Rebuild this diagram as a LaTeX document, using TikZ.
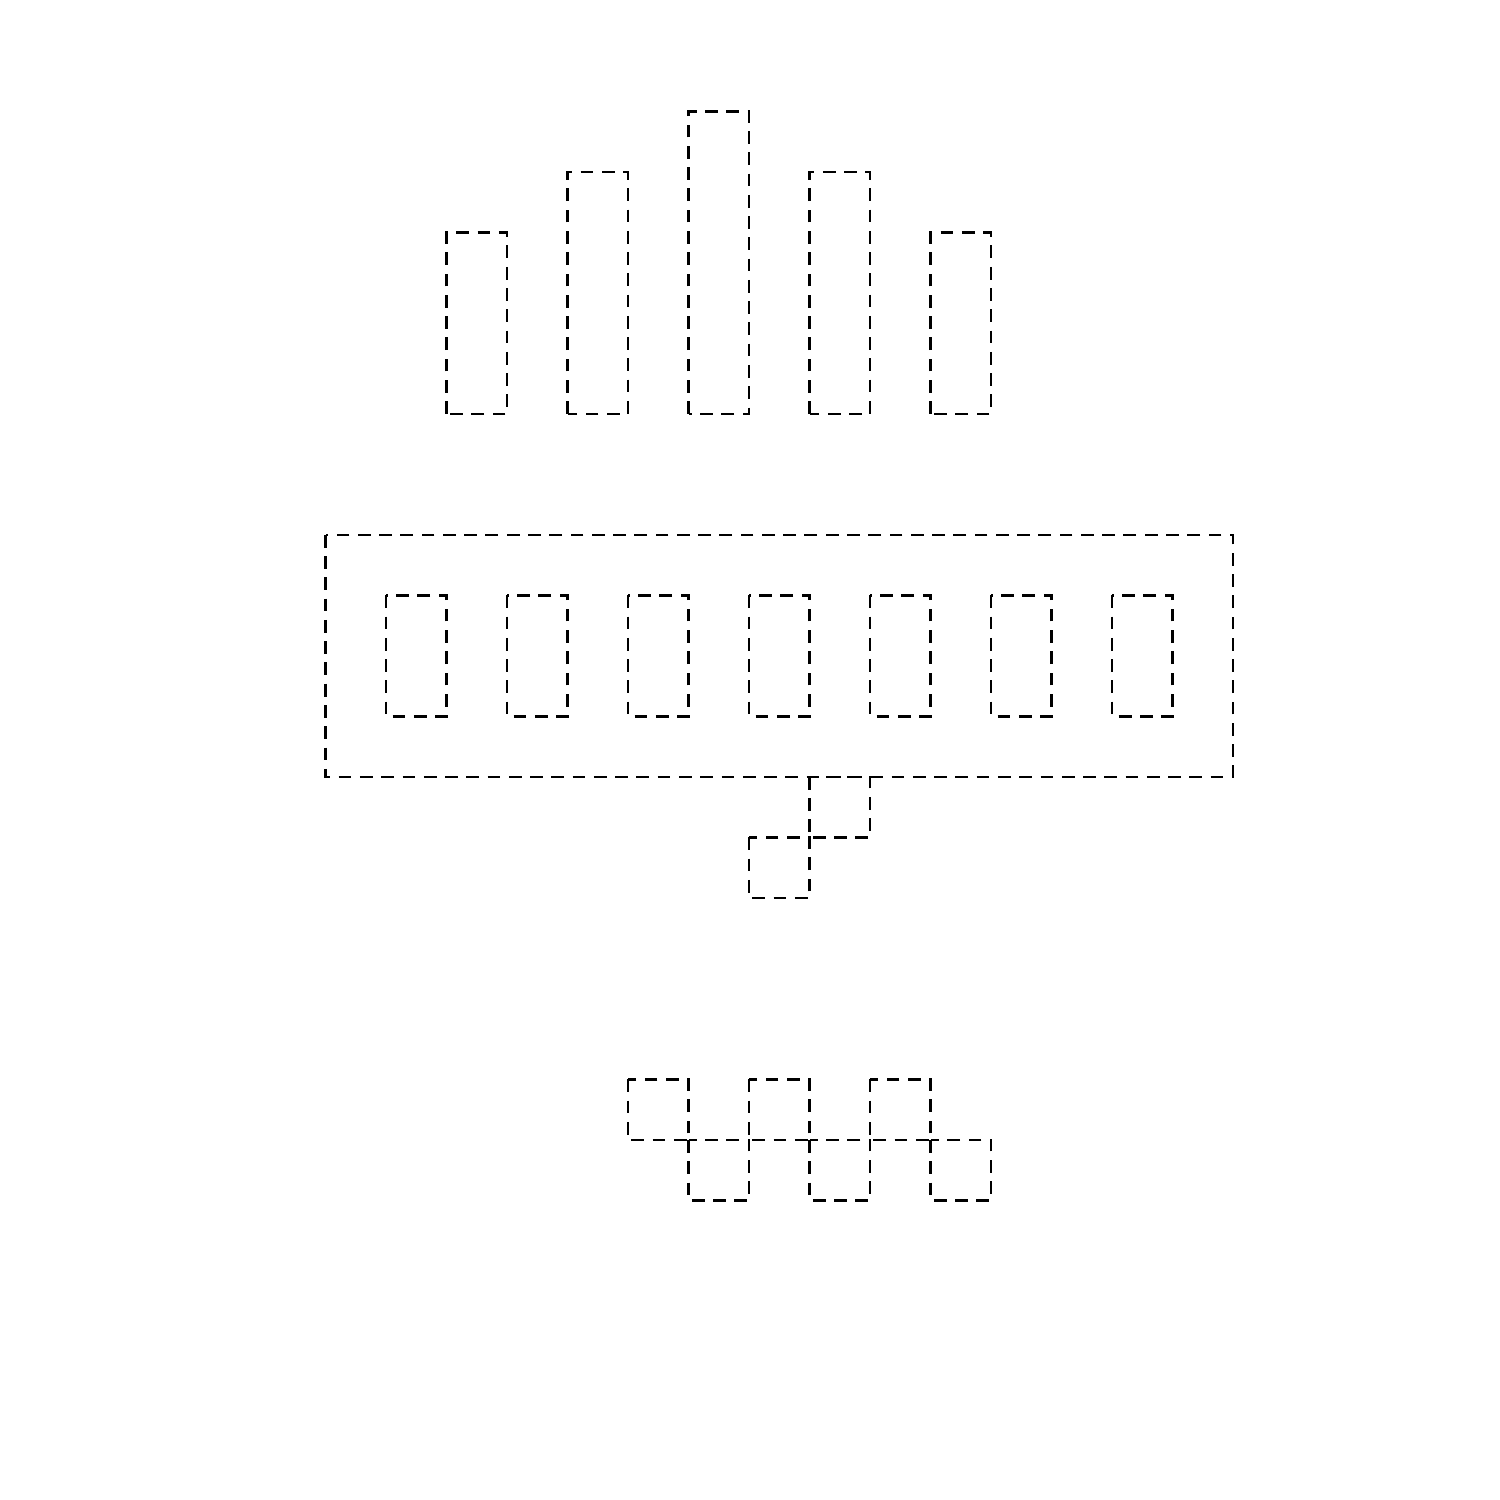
\documentclass[tikz,border=0pt]{standalone}
\usepackage{tikz}

\begin{document}
\begin{tikzpicture}[x=0.5cm, y=0.5cm, densely dashed, semithick]
			%%%%% START %%%%%
			
			\useasboundingbox (-5.38, -15.95) rectangle (19.41, 8.84);
			
			\draw (2, 2) rectangle (3, 5);
			\draw (4, 2) rectangle (5, 6);
			\draw (6, 2) rectangle (7, 7);
			\draw (8, 2) rectangle (9, 6);
			\draw (10, 2) rectangle (11, 5);
			
			\draw (0, 0) rectangle (15, -4);
			
			\draw (1, -1) rectangle (2, -3);
			\draw (3, -1) rectangle (4, -3);
			\draw (5, -1) rectangle (6, -3);
			\draw (7, -1) rectangle (8, -3);
			\draw (9, -1) rectangle (10, -3);
			\draw (11, -1) rectangle (12, -3);
			\draw (13, -1) rectangle (14, -3);
			
			\draw (8, -4) rectangle (9, -5);
			\draw (7, -5) rectangle (8, -6);
			
			\draw (5, -9) rectangle (6, -10);
			\draw (7, -9) rectangle (8, -10);
			\draw (9, -9) rectangle (10, -10);
			\draw (6, -10) rectangle (7, -11);
			\draw (8, -10) rectangle (9, -11);
			\draw (10, -10) rectangle (11, -11);
			
			%%%%% END %%%%%
\end{tikzpicture}
\end{document}
